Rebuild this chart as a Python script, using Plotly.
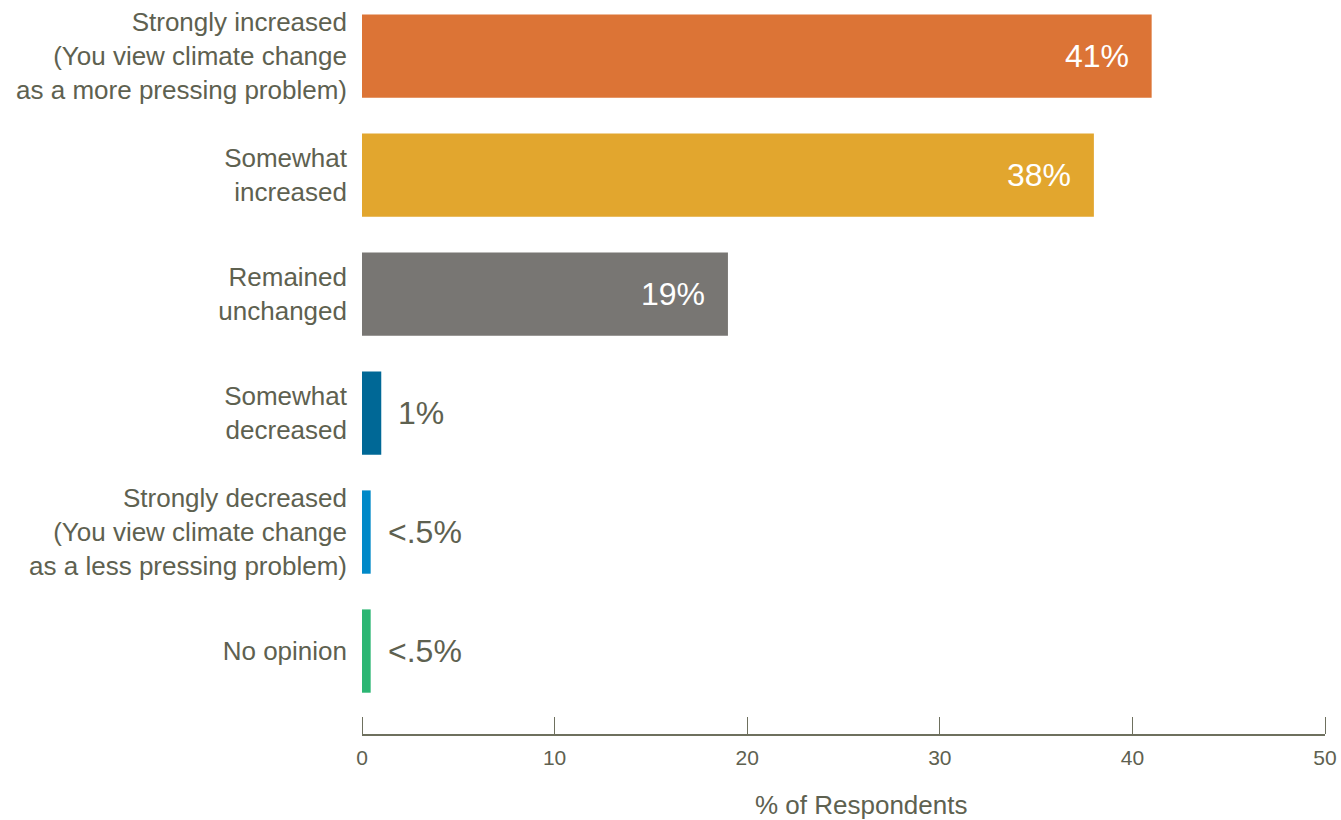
import plotly.graph_objects as go

# Survey responses: change in how pressing climate change is viewed
categories = [
    "Strongly increased<br>(You view climate change<br>as a more pressing problem)",
    "Somewhat<br>increased",
    "Remained<br>unchanged",
    "Somewhat<br>decreased",
    "Strongly decreased<br>(You view climate change<br>as a less pressing problem)",
    "No opinion",
]
values = [41, 38, 19, 1, 0.45, 0.45]
value_labels = ["41%", "38%", "19%", "1%", "<.5%", "<.5%"]
inside_label = [True, True, True, False, False, False]
bar_colors = ["#DC7436", "#E2A62E", "#787673", "#006896", "#0089C8", "#2BB673"]

x_ticks = [0, 10, 20, 30, 40, 50]
x_range = [0, 50]

TEXT = "#5E6150"
AXIS = "#6E705E"
FONT = "Liberation Sans, Arial, sans-serif"

fig = go.Figure(
    go.Bar(
        x=values,
        y=categories,
        orientation="h",
        marker=dict(color=bar_colors, line=dict(width=0)),
        width=0.7,
        hoverinfo="skip",
    )
)
# invisible companion trace so the upward-tick axis gets drawn
fig.add_trace(
    go.Scatter(
        x=values,
        y=categories,
        xaxis="x2",
        mode="markers",
        marker=dict(opacity=0),
        hoverinfo="skip",
        showlegend=False,
    )
)

annotations = []
for cat, val, lab, inside in zip(categories, values, value_labels, inside_label):
    annotations.append(
        dict(
            x=val,
            y=cat,
            xref="x",
            yref="y",
            text=lab,
            showarrow=False,
            xanchor="right" if inside else "left",
            xshift=-21 if inside else 15,
            font=dict(family=FONT, size=32, color="white" if inside else TEXT),
        )
    )

# x-axis title, set as an annotation below the tick labels
annotations.append(
    dict(
        x=0.5,
        y=0,
        xref="paper",
        yref="paper",
        xanchor="center",
        yanchor="middle",
        xshift=17,
        yshift=-71,
        text="% of Respondents",
        showarrow=False,
        font=dict(family=FONT, size=26, color=TEXT),
    )
)

fig.update_layout(
    width=1341,
    height=820,
    margin=dict(l=362, r=16, t=0, b=86),
    paper_bgcolor="white",
    plot_bgcolor="white",
    showlegend=False,
    annotations=annotations,
    xaxis=dict(
        range=x_range,
        tickvals=x_ticks,
        ticktext=[str(t) for t in x_ticks],
        ticks="",
        showline=True,
        linecolor=AXIS,
        linewidth=1.5,
        showgrid=False,
        zeroline=False,
        ticklabelstandoff=4,
        tickfont=dict(family=FONT, size=21, color=TEXT),
    ),
    # companion axis along the bottom edge whose ticks point up into the plot
    xaxis2=dict(
        overlaying="x",
        range=x_range,
        side="top",
        anchor="free",
        position=0,
        tickvals=x_ticks,
        ticks="outside",
        ticklen=17,
        tickwidth=1,
        tickcolor=AXIS,
        showticklabels=False,
        showline=False,
        showgrid=False,
        zeroline=False,
    ),
    yaxis=dict(
        categoryorder="array",
        categoryarray=categories,
        range=[5.697, -0.471],
        showgrid=False,
        zeroline=False,
        showline=False,
        ticks="",
        ticklabelstandoff=14,
        tickfont=dict(family=FONT, size=26, color=TEXT),
    ),
)

fig.write_html("out.html")
